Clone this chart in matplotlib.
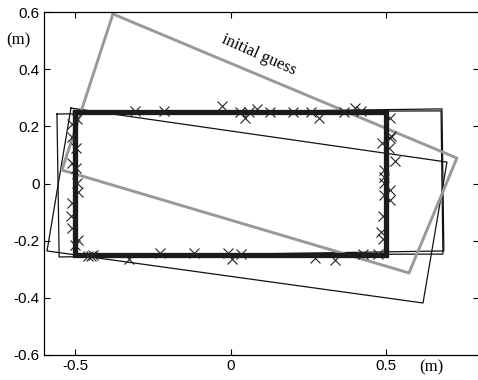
import matplotlib
matplotlib.use("Agg")
import matplotlib.pyplot as plt
import numpy as np

plt.rcParams['axes.unicode_minus'] = False

# corner points of each estimate (x, y in m)
guess_x = [-0.378, 0.728, 0.574, -0.542]
guess_y = [0.593, 0.089, -0.313, 0.047]

iter1_x = [-0.513, 0.696, 0.619, -0.590]
iter1_y = [0.264, 0.075, -0.418, -0.236]

iter2_x = [-0.558, 0.680, 0.686, -0.551]
iter2_y = [0.243, 0.261, -0.236, -0.257]

iter3_x = [-0.500, 0.677, 0.683, -0.497]
iter3_y = [0.250, 0.254, -0.247, -0.250]

final_x = [-0.5, 0.5, 0.5, -0.5]
final_y = [0.25, 0.25, -0.25, -0.25]

# measured points
top_x = [-0.307, -0.214, -0.027, 0.031, 0.047, 0.059, 0.085, 0.127, 0.201,
         0.259, 0.285, 0.365, 0.400, 0.420]
top_y = [0.255, 0.255, 0.27, 0.25, 0.23, 0.25, 0.26, 0.25, 0.25,
         0.25, 0.23, 0.25, 0.265, 0.255]
bot_x = [-0.458, -0.449, -0.442, -0.326, -0.226, -0.117, -0.008, 0.005,
         0.034, 0.272, 0.336, 0.426, 0.474]
bot_y = [-0.252, -0.255, -0.25, -0.265, -0.242, -0.242, -0.242, -0.265,
         -0.245, -0.26, -0.268, -0.245, -0.245]
left_x = [-0.494, -0.510, -0.510, -0.497, -0.510, -0.497, -0.494, -0.490,
          -0.510, -0.513, -0.510, -0.490, -0.500]
left_y = [0.226, 0.208, 0.163, 0.124, 0.072, 0.054, 0.002, -0.030,
          -0.068, -0.114, -0.156, -0.198, -0.215]
right_x = [0.513, 0.516, 0.513, 0.487, 0.510, 0.529, 0.494, 0.494, 0.494,
           0.513, 0.494, 0.513, 0.490, 0.484, 0.490]
right_y = [0.229, 0.166, 0.159, 0.142, 0.124, 0.079, 0.047, 0.023, 0.002,
           -0.023, -0.040, -0.058, -0.114, -0.170, -0.194]

xticks = [-0.5, 0, 0.5]
xtick_labels = ["-0.5", "0", "0.5"]
yticks = [-0.6, -0.4, -0.2, 0, 0.2, 0.4, 0.6]
ytick_labels = ["-0.6", "-0.4", "-0.2", "0", "0.2", "0.4", "0.6"]

def closed(xs, ys):
    return list(xs) + [xs[0]], list(ys) + [ys[0]]

fig = plt.figure(figsize=(4.78, 3.80), dpi=100)
ax = fig.add_axes([43.9 / 478, 25 / 380, 435.4 / 478, 343 / 380])

for xs, ys in [(iter1_x, iter1_y), (iter2_x, iter2_y), (iter3_x, iter3_y)]:
    cx, cy = closed(xs, ys)
    ax.plot(cx, cy, color='#111111', lw=0.9)

cx, cy = closed(guess_x, guess_y)
ax.plot(cx, cy, color='#999999', lw=2.1)

cx, cy = closed(final_x, final_y)
ax.plot(cx, cy, color='#1a1a1a', lw=3.8, solid_joinstyle='miter')

px = top_x + bot_x + left_x + right_x
py = top_y + bot_y + left_y + right_y
ax.plot(px, py, 'x', color='#222222', ms=6.5, mew=0.8)

ax.text(0.09, 0.45, "initial guess", rotation=-24, ha='center', va='center',
        family='Liberation Serif', fontsize=12)

ax.set_xlim(-0.6, 0.8)
ax.set_ylim(-0.6, 0.6)
ax.set_xticks(xticks)
ax.set_xticklabels(xtick_labels)
ax.set_yticks(yticks)
ax.set_yticklabels(ytick_labels)
ax.tick_params(direction='in', top=True, right=True, length=4, width=0.8,
               labelsize=11, pad=3)
for lab in ax.get_xticklabels() + ax.get_yticklabels():
    lab.set_family('Liberation Sans')
for s in ax.spines.values():
    s.set_linewidth(0.9)

fig.text(18 / 478, 1 - 40 / 380, "(m)", family='Liberation Serif', fontsize=12,
         ha='center', va='center')
fig.text(431 / 478, 1 - 367 / 380, "(m)", family='Liberation Serif', fontsize=12,
         ha='center', va='center')

fig.savefig("out.png", dpi=100)
